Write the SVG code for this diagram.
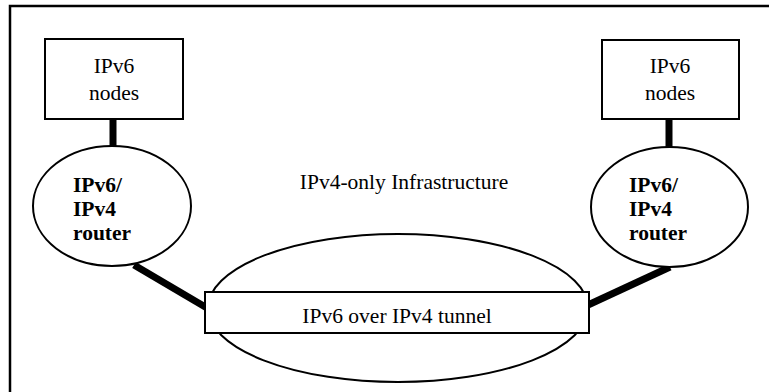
<svg xmlns="http://www.w3.org/2000/svg" width="769" height="392" viewBox="0 0 769 392">
<style>
.shape{fill:#fff;stroke:#000;stroke-width:2}
.t{font-family:"Liberation Serif","Times New Roman",serif;font-size:21.5px;fill:#000}
.b{font-weight:bold}
.link{stroke:#000;stroke-width:7;fill:none}
</style>
<rect width="769" height="392" fill="#fff"/>
<rect x="10" y="6" width="775" height="400" fill="none" stroke="#000" stroke-width="2.5"/>
<g id="connectors">
<line class="link" x1="113" y1="119" x2="113" y2="148"/>
<line class="link" x1="669" y1="119" x2="669" y2="148"/>
<line class="link" x1="134" y1="265" x2="207" y2="308"/>
<line class="link" x1="670" y1="267" x2="588" y2="305"/>
</g>
<g id="infra">
<ellipse class="shape" cx="398" cy="308" rx="190" ry="74"/>
<text class="t" x="404" y="189" text-anchor="middle">IPv4-only Infrastructure</text>
</g>
<g id="tunnel">
<rect class="shape" x="205" y="292" width="384" height="41"/>
<text class="t" x="397" y="323" text-anchor="middle">IPv6 over IPv4 tunnel</text>
</g>
<g id="nodes-left">
<rect class="shape" x="45" y="39" width="138" height="80"/>
<text class="t" x="114" y="73" text-anchor="middle">IPv6</text>
<text class="t" x="114" y="100" text-anchor="middle">nodes</text>
</g>
<g id="nodes-right">
<rect class="shape" x="602" y="40" width="137" height="79"/>
<text class="t" x="670" y="73" text-anchor="middle">IPv6</text>
<text class="t" x="670" y="100" text-anchor="middle">nodes</text>
</g>
<g id="router-left">
<ellipse class="shape" cx="112" cy="206" rx="79" ry="60"/>
<text class="t b" x="73" y="192">IPv6/</text>
<text class="t b" x="73" y="216">IPv4</text>
<text class="t b" x="73" y="240">router</text>
</g>
<g id="router-right">
<ellipse class="shape" cx="669.5" cy="207" rx="78.5" ry="60"/>
<text class="t b" x="629" y="192">IPv6/</text>
<text class="t b" x="629" y="216">IPv4</text>
<text class="t b" x="629" y="240">router</text>
</g>
</svg>
